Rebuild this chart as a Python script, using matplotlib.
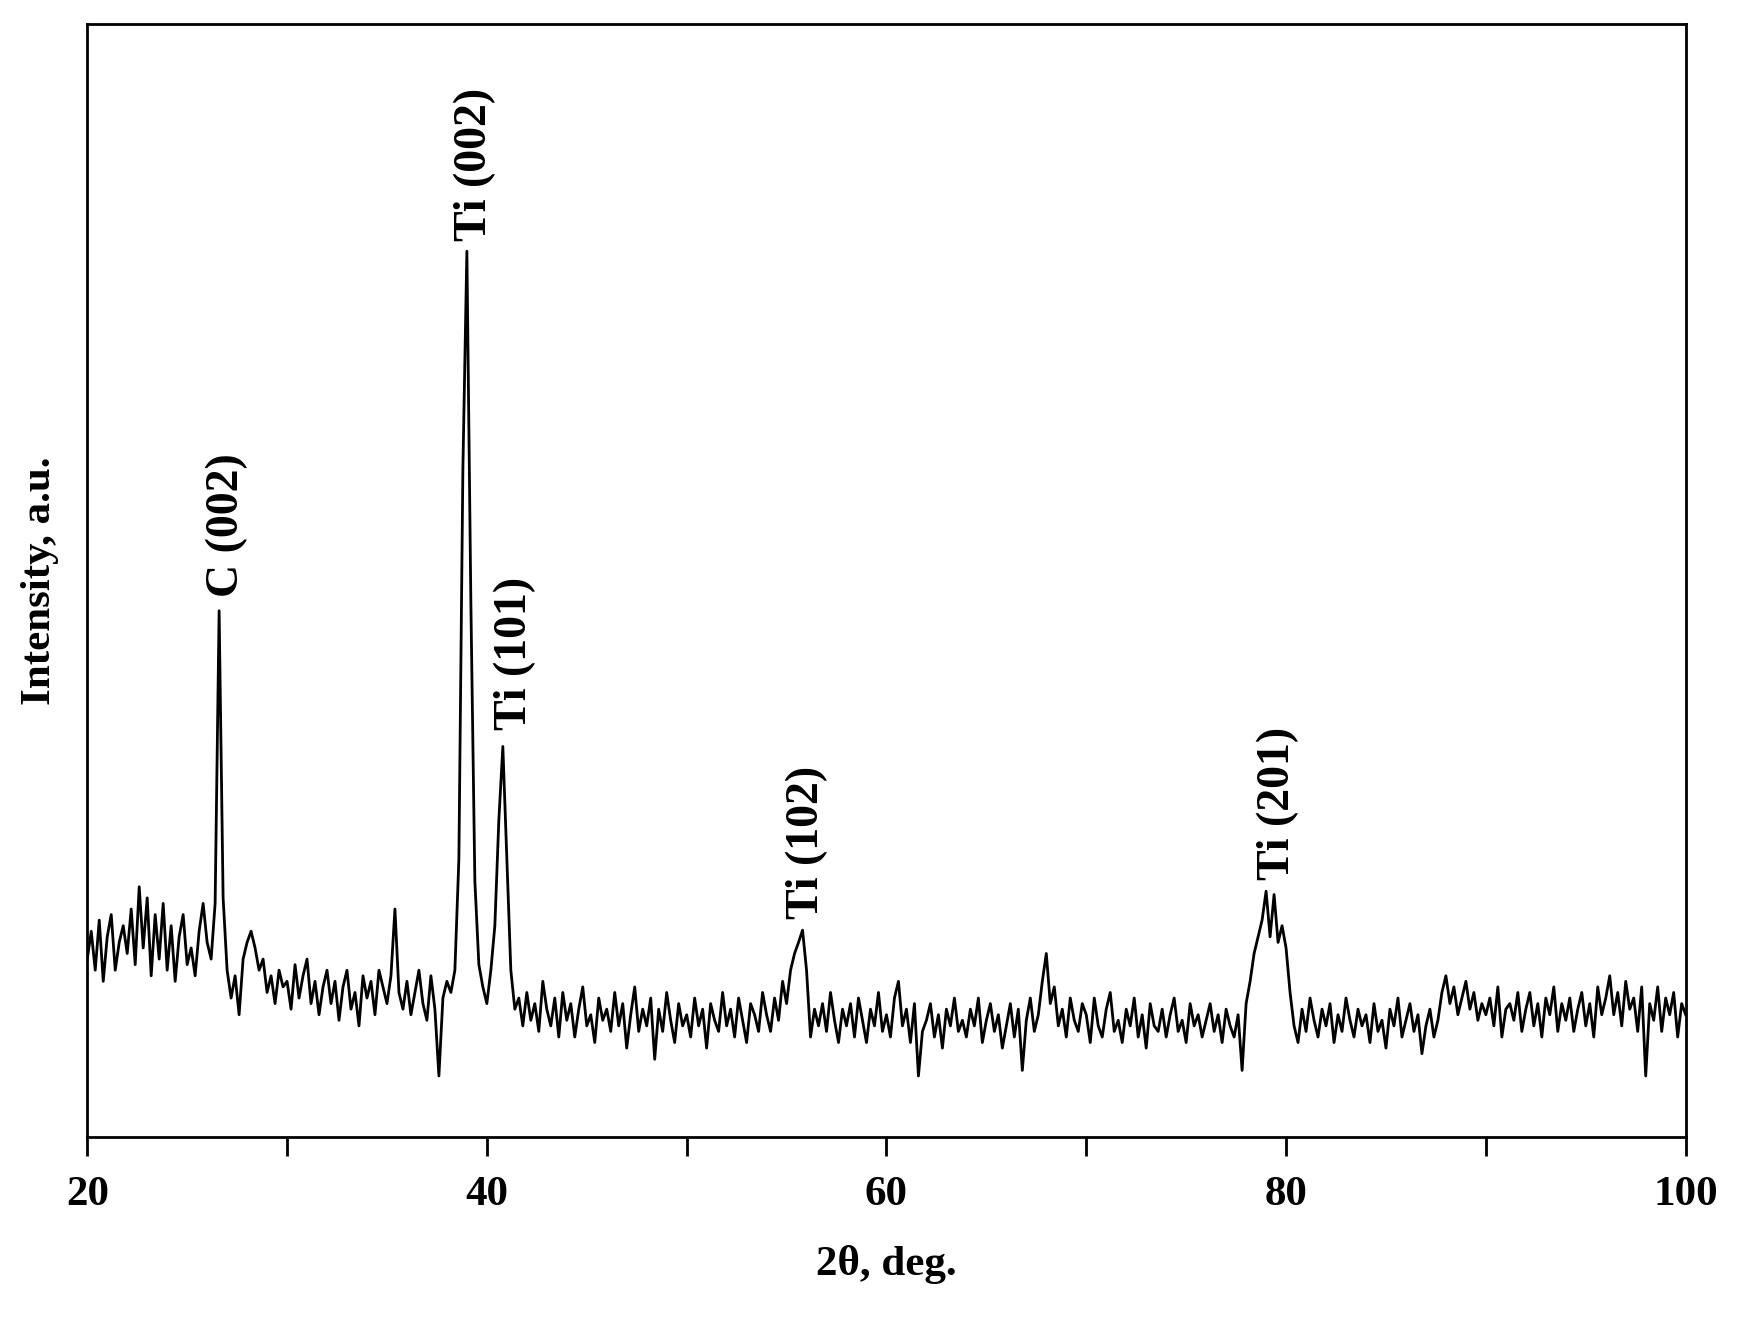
import numpy as np
import matplotlib
matplotlib.use("Agg")
import matplotlib.pyplot as plt

two_theta = np.round(np.arange(20.0, 100.001, 0.2), 2)
intensity = [
160,185,150,195,140,180,200,150,175,190,
165,205,155,225,170,215,145,200,160,210,
150,190,140,180,200,155,170,145,185,210,
175,160,210,473,215,150,125,145,110,160,
175,185,170,150,160,130,145,120,150,135,
140,115,155,125,145,160,120,140,110,135,
150,120,140,105,135,150,115,130,100,145,
125,140,110,150,135,120,145,205,130,115,
140,110,130,150,120,105,145,115,55,125,
140,130,150,250,600,796,480,230,155,135,
120,150,190,285,351,250,150,115,125,100,
130,105,120,95,140,115,100,125,90,130,
105,120,90,115,135,100,110,85,125,105,
115,95,130,100,120,80,110,135,95,115,
100,125,70,115,95,130,105,85,120,100,
110,90,125,100,115,80,120,105,95,130,
100,115,90,125,105,85,120,110,95,130,
110,95,125,105,140,120,150,165,175,186,
150,90,115,100,120,95,130,105,85,115,
100,120,90,125,105,85,115,100,130,95,
110,90,125,140,100,115,85,120,55,95,
105,120,90,110,80,115,100,125,95,105,
90,115,100,125,85,105,120,95,110,80,
100,120,90,115,60,105,125,95,110,140,
165,120,135,100,115,90,125,105,95,120,
110,85,125,100,90,115,130,95,105,85,
115,100,125,90,110,80,120,100,95,115,
90,110,125,95,105,85,120,100,110,90,
105,120,95,110,85,115,100,90,110,60,
120,140,165,180,195,221,180,218,175,190,
170,130,100,85,115,95,125,105,90,115,
100,120,85,110,95,125,105,90,115,100,
110,85,120,95,105,80,115,100,125,90,
105,120,95,110,75,100,115,90,105,130,
145,120,135,110,125,140,115,130,105,120,
110,125,100,135,90,115,120,105,130,95,
115,130,100,120,90,125,110,135,95,120,
105,125,95,115,130,100,120,90,135,110,
125,145,110,130,100,140,115,125,95,135,
55,120,105,135,95,125,110,130,90,120,
110,
]

peak_labels = ["C (002)", "Ti (002)", "Ti (101)", "Ti (102)", "Ti (201)"]
peak_x = [27.0, 39.4, 41.4, 56.0, 79.6]
peak_y = [485, 805, 366, 196, 231]

plt.rcParams['font.family'] = ['Liberation Serif', 'DejaVu Serif']
plt.rcParams['font.weight'] = 'bold'

fig = plt.figure(figsize=(17.45, 13.41), dpi=100)
ax = fig.add_axes([0.05, 0.152, 0.916, 0.830])
ax.plot(two_theta, intensity, color='black', lw=2)
for lab, x, y in zip(peak_labels, peak_x, peak_y):
    ax.text(x, y, lab, rotation=90, ha='center', va='bottom', fontsize=33, fontweight='bold')
ax.set_xlim(20, 100)
ax.set_ylim(0, 1000)
ax.set_xticks([20, 40, 60, 80, 100])
ax.set_xticks([30, 50, 70, 90], minor=True)
ax.set_yticks([])
ax.tick_params(axis='x', which='both', direction='out', length=14, width=2, labelsize=31, pad=14)
for lbl in ax.get_xticklabels():
    lbl.set_fontweight('bold')
for s in ax.spines.values():
    s.set_linewidth(2)
ax.set_xlabel("2θ, deg.", fontsize=31, fontweight='bold', labelpad=22)
ax.set_ylabel("Intensity, a.u.", fontsize=31, fontweight='bold', labelpad=20)
fig.savefig("out.png", dpi=100)
